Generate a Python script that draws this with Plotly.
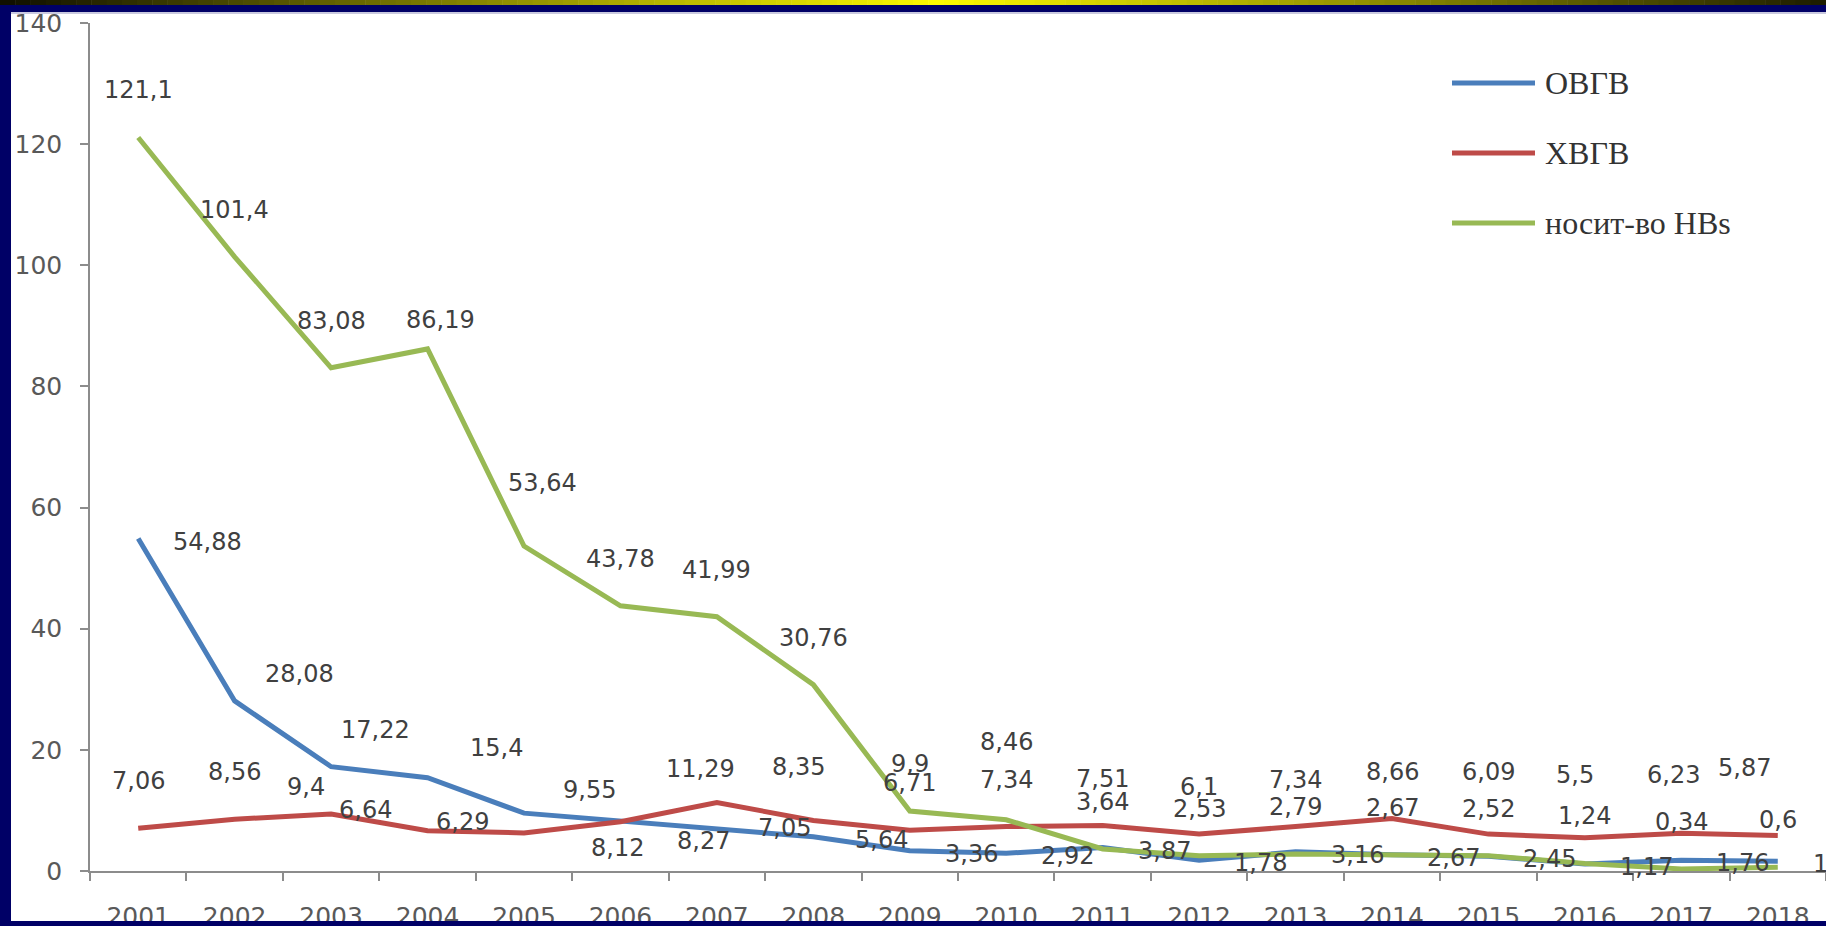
import plotly.graph_objects as go

# ---------------- data ----------------
years = [str(y) for y in range(2001, 2019)]
ovgv = [54.88, 28.08, 17.22, 15.4, 9.55, 8.27, 7.05, 5.64, 3.36, 2.92, 3.87, 1.78, 3.16, 2.67, 2.45, 1.17, 1.76, 1.62]
hvgv = [7.06, 8.56, 9.4, 6.64, 6.29, 8.12, 11.29, 8.35, 6.71, 7.34, 7.51, 6.1, 7.34, 8.66, 6.09, 5.5, 6.23, 5.87]
hbs = [121.1, 101.4, 83.08, 86.19, 53.64, 43.78, 41.99, 30.76, 9.9, 8.46, 3.64, 2.53, 2.79, 2.67, 2.52, 1.24, 0.34, 0.6]
series_names = ["ОВГВ", "ХВГВ", "носит-во HBs"]
y_tick_values = [0, 20, 40, 60, 80, 100, 120, 140]

# ---------------- styles ----------------
W, H = 1826, 926
PLOT_L, PLOT_T, PLOT_B = 90, 23, 871
colors = ["#4A7EBB", "#BE4B48", "#98B954"]
LABEL_FONT = dict(family="DejaVu Sans", size=24, color="#404040")
TICK_FONT = dict(family="DejaVu Sans", size=25, color="#595959")
LEGEND_FONT = dict(family="Liberation Serif", size=32, color="#333333")
NAVY = "#000066"

# data-label placement per series: (xanchor, default dx, default dy, overrides by point index)
label_style = [
    ("left", 33, -3, {1: (28, 27), 2: (8, 37), 3: (40, 30), 4: (37, 23), 5: (55, -20), 6: (39, 0), 7: (40, -3)}),
    ("center", 0, 47, {2: (-25, 27), 3: (-62, 21), 4: (-62, 11), 5: (-3, -26), 6: (-16, 34), 7: (-15, 53),
                       14: (0, 62), 15: (-10, 63), 16: (-8, 58), 17: (-33, 67)}),
    ("center", 0, 47, {3: (13, 29), 4: (18, 63), 9: (0, 78)}),
]


def fmt(v):
    return f"{v:g}".replace(".", ",")


fig = go.Figure()
all_series = [ovgv, hvgv, hbs]
for name, vals, col in zip(series_names, all_series, colors):
    fig.add_trace(go.Scatter(x=years, y=vals, mode="lines", name=name,
                             line=dict(color=col, width=5), showlegend=False,
                             hoverinfo="skip"))

annotations = []
for (anchor, ddx, ddy, over), vals in zip(label_style, all_series):
    for i, v in enumerate(vals):
        dx, dy = over.get(i, (ddx, ddy))
        annotations.append(dict(x=i, y=v, xref="x", yref="y", text=fmt(v), showarrow=False,
                                xanchor=anchor, yanchor="middle", xshift=dx, yshift=dy,
                                font=LABEL_FONT))

# legend drawn with long line samples, as in the original
shapes = []
legend_rows = [83, 153, 223]
for name, col, ry in zip(series_names, colors, legend_rows):
    shapes.append(dict(type="line", xref="paper", yref="paper",
                       x0=1452 / W, x1=1535 / W, y0=1 - ry / H, y1=1 - ry / H,
                       line=dict(color=col, width=5), layer="above"))
    annotations.append(dict(x=1543 / W, y=1 - ry / H, xref="paper", yref="paper", text=name,
                            showarrow=False, xanchor="left", yanchor="middle", font=LEGEND_FONT))

# slide frame: gold gradient band on top, navy bands
N = 120
for k in range(N):
    x0 = k * W / N
    x1 = (k + 1) * W / N + 0.5
    xc = (x0 + x1) / 2
    f = max(0.06, 1 - abs(xc - 940) / 1000)
    c = f"rgb({int(252 * f)},{int(250 * f)},0)"
    shapes.append(dict(type="rect", xref="paper", yref="paper", x0=x0 / W, x1=x1 / W,
                       y0=1 - 5 / H, y1=1, fillcolor=c, line=dict(width=0), layer="above"))
shapes.append(dict(type="rect", xref="paper", yref="paper", x0=0, x1=1, y0=1 - 12 / H, y1=1 - 5 / H,
                   fillcolor=NAVY, line=dict(width=0), layer="above"))
shapes.append(dict(type="rect", xref="paper", yref="paper", x0=0, x1=1, y0=1 - 14 / H, y1=1 - 12 / H,
                   fillcolor="#c9c9df", line=dict(width=0), layer="above"))
shapes.append(dict(type="rect", xref="paper", yref="paper", x0=0, x1=11 / W, y0=0, y1=1 - 5 / H,
                   fillcolor=NAVY, line=dict(width=0), layer="above"))
shapes.append(dict(type="rect", xref="paper", yref="paper", x0=0, x1=1, y0=0, y1=5 / H,
                   fillcolor=NAVY, line=dict(width=0), layer="above"))

fig.update_layout(
    width=W, height=H, autosize=False,
    margin=dict(l=0, r=0, t=0, b=0, pad=0, autoexpand=False),
    paper_bgcolor="white", plot_bgcolor="white",
    showlegend=False,
    xaxis=dict(type="category", domain=[PLOT_L / W, 1], range=[-0.5, 17.5],
               showline=True, linecolor="#8c8c8c", linewidth=1.5,
               ticks="outside", ticklen=8, tickwidth=1.5, tickcolor="#8c8c8c",
               tickson="boundaries", showgrid=False, zeroline=False, tickfont=TICK_FONT,
               ticklabelstandoff=22, fixedrange=True, automargin=False),
    yaxis=dict(domain=[1 - PLOT_B / H, 1 - PLOT_T / H], range=[0, 140], tickvals=y_tick_values,
               showline=True, linecolor="#8c8c8c", linewidth=1.5,
               ticks="outside", ticklen=8, tickwidth=1.5, tickcolor="#8c8c8c",
               showgrid=False, zeroline=False, tickfont=TICK_FONT, ticklabelstandoff=13,
               fixedrange=True, automargin=False),
    annotations=annotations,
    shapes=shapes,
)

post = "document.body.style.margin='0';"
fig.write_html("out.html", post_script=post, config={"responsive": False})
